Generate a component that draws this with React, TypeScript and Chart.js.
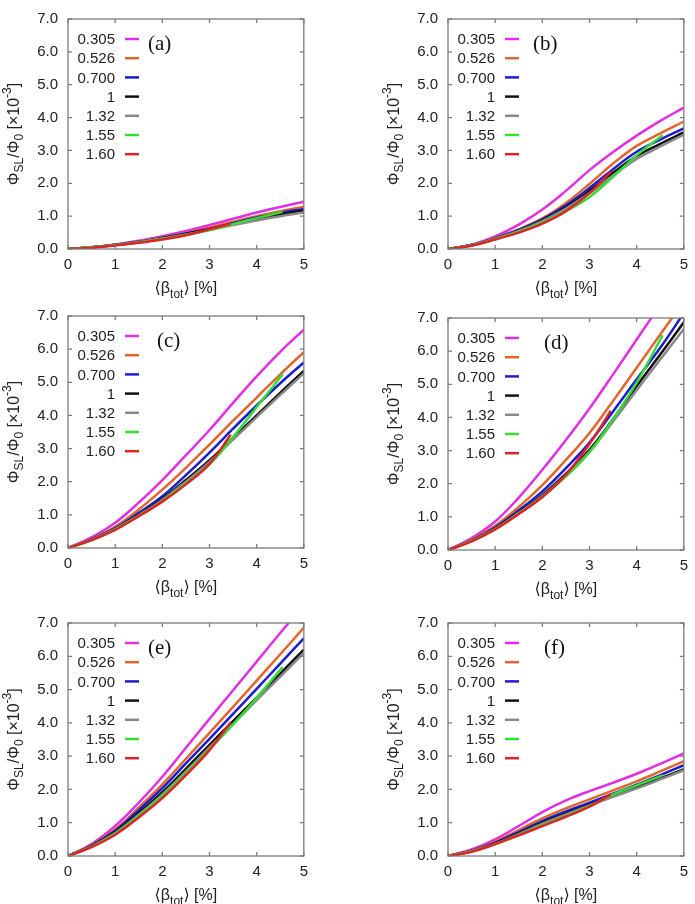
import { useEffect, useRef } from "react";
import { Chart, registerables } from "chart.js";

Chart.register(...registerables);

// Normalised total beta <beta_tot> [%] sample points
const BETA = [0, 0.5, 1, 1.5, 2, 2.5, 3, 3.5, 4, 4.5, 5];
const BETA_155 = [0, 0.5, 1, 1.5, 2, 2.5, 3, 3.5, 4, 4.55];
const BETA_160 = [0, 0.5, 1, 1.5, 2, 2.5, 3, 3.45];

const SERIES_LABELS = ["0.305", "0.526", "0.700", "1", "1.32", "1.55", "1.60"];
const SERIES_COLORS = ["#e42ee4", "#e4652c", "#1c1cd2", "#111111", "#888888", "#36dc36", "#e02424"];
const PANEL_TAGS = ["(a)", "(b)", "(c)", "(d)", "(e)", "(f)"];

const Y_TICK_LABELS = ["0.0", "1.0", "2.0", "3.0", "4.0", "5.0", "6.0", "7.0"];
const X_TICK_LABELS = ["0", "1", "2", "3", "4", "5"];

// Phi_SL / Phi_0 [x10^-3], one row per series (0.305 ... 1.60)
const PHI_A = [
  [0, 0.05, 0.14, 0.25, 0.39, 0.55, 0.73, 0.92, 1.11, 1.28, 1.44],
  [0, 0.05, 0.13, 0.23, 0.35, 0.49, 0.65, 0.83, 1.0, 1.15, 1.29],
  [0, 0.05, 0.13, 0.22, 0.34, 0.47, 0.62, 0.79, 0.96, 1.1, 1.22],
  [0, 0.05, 0.12, 0.21, 0.33, 0.46, 0.6, 0.76, 0.92, 1.05, 1.17],
  [0, 0.05, 0.12, 0.21, 0.32, 0.44, 0.58, 0.73, 0.87, 1.0, 1.11],
  [0, 0.05, 0.12, 0.2, 0.31, 0.43, 0.58, 0.76, 0.94, 1.13],
  [0, 0.04, 0.11, 0.19, 0.29, 0.42, 0.6, 0.77],
];
const PHI_B = [
  [0, 0.13, 0.38, 0.74, 1.2, 1.77, 2.4, 2.95, 3.45, 3.9, 4.3],
  [0, 0.12, 0.34, 0.6, 0.93, 1.4, 1.98, 2.6, 3.14, 3.52, 3.88],
  [0, 0.12, 0.33, 0.58, 0.9, 1.33, 1.86, 2.43, 2.96, 3.33, 3.67],
  [0, 0.12, 0.32, 0.56, 0.87, 1.27, 1.77, 2.32, 2.83, 3.2, 3.55],
  [0, 0.12, 0.32, 0.55, 0.85, 1.23, 1.7, 2.24, 2.74, 3.12, 3.48],
  [0, 0.11, 0.3, 0.52, 0.8, 1.15, 1.58, 2.2, 2.85, 3.46],
  [0, 0.1, 0.29, 0.5, 0.77, 1.15, 1.7, 2.35],
];
const PHI_C = [
  [0, 0.32, 0.76, 1.37, 2.05, 2.8, 3.56, 4.38, 5.18, 5.92, 6.59],
  [0, 0.27, 0.64, 1.16, 1.76, 2.42, 3.12, 3.84, 4.54, 5.24, 5.91],
  [0, 0.26, 0.6, 1.06, 1.56, 2.2, 2.88, 3.6, 4.3, 4.97, 5.6],
  [0, 0.25, 0.58, 1.01, 1.48, 2.05, 2.65, 3.32, 4.0, 4.68, 5.34],
  [0, 0.25, 0.57, 0.99, 1.45, 2.0, 2.6, 3.27, 3.95, 4.62, 5.27],
  [0, 0.24, 0.56, 0.97, 1.42, 1.95, 2.52, 3.35, 4.25, 5.24],
  [0, 0.24, 0.55, 0.96, 1.4, 1.92, 2.54, 3.42],
];
const PHI_D = [
  [0, 0.36, 0.86, 1.58, 2.42, 3.32, 4.27, 5.3, 6.35, 7.4, 8.45],
  [0, 0.31, 0.73, 1.3, 1.96, 2.72, 3.53, 4.5, 5.5, 6.5, 7.5],
  [0, 0.29, 0.68, 1.2, 1.77, 2.47, 3.24, 4.18, 5.15, 6.1, 7.15],
  [0, 0.28, 0.65, 1.14, 1.66, 2.3, 3.02, 3.95, 4.95, 5.9, 6.87],
  [0, 0.28, 0.64, 1.12, 1.63, 2.26, 2.97, 3.88, 4.82, 5.75, 6.67],
  [0, 0.27, 0.63, 1.1, 1.6, 2.22, 2.95, 3.95, 5.05, 6.48],
  [0, 0.26, 0.62, 1.09, 1.6, 2.27, 3.2, 4.2],
];
const PHI_E = [
  [0, 0.36, 0.9, 1.6, 2.38, 3.25, 4.12, 4.98, 5.84, 6.7, 7.55],
  [0, 0.33, 0.8, 1.45, 2.15, 2.92, 3.7, 4.48, 5.27, 6.06, 6.86],
  [0, 0.31, 0.76, 1.38, 2.04, 2.78, 3.52, 4.27, 5.02, 5.78, 6.54],
  [0, 0.3, 0.72, 1.29, 1.92, 2.62, 3.34, 4.05, 4.76, 5.48, 6.2],
  [0, 0.29, 0.69, 1.24, 1.85, 2.54, 3.26, 3.97, 4.68, 5.39, 6.1],
  [0, 0.28, 0.67, 1.21, 1.8, 2.49, 3.2, 3.95, 4.75, 5.68],
  [0, 0.27, 0.64, 1.16, 1.74, 2.43, 3.18, 4.02],
];
const PHI_F = [
  [0, 0.2, 0.5, 0.9, 1.32, 1.67, 1.95, 2.2, 2.47, 2.77, 3.08],
  [0, 0.17, 0.43, 0.78, 1.13, 1.43, 1.7, 1.97, 2.24, 2.54, 2.85],
  [0, 0.16, 0.4, 0.72, 1.05, 1.34, 1.6, 1.87, 2.14, 2.43, 2.73],
  [0, 0.15, 0.38, 0.68, 1.0, 1.28, 1.54, 1.8, 2.06, 2.33, 2.61],
  [0, 0.15, 0.37, 0.66, 0.97, 1.25, 1.52, 1.78, 2.03, 2.3, 2.58],
  [0, 0.14, 0.35, 0.63, 0.93, 1.2, 1.5, 1.85, 2.12, 2.42],
  [0, 0.13, 0.36, 0.62, 0.9, 1.18, 1.48, 1.85],
];
const PANEL_DATA = [PHI_A, PHI_B, PHI_C, PHI_D, PHI_E, PHI_F];

// Page placement of each panel's plot box
const PANEL_BOXES = [
  { left: 68, top: 13, bottom: 249, tagX: 80 },
  { left: 448, top: 13, bottom: 249, tagX: 85 },
  { left: 68, top: 310, bottom: 548, tagX: 89 },
  { left: 448, top: 312, bottom: 550, tagX: 96 },
  { left: 68, top: 617, bottom: 856, tagX: 80 },
  { left: 448, top: 617, bottom: 856, tagX: 96 },
];
const CANVAS_W = 315;
const CANVAS_H = 300;
const PAD_TOP = 13;
const Y_AXIS_W = 68;

const SANS = "'Liberation Sans', Arial, 'DejaVu Sans', sans-serif";
const SERIF = "'Liberation Serif', 'Times New Roman', 'DejaVu Serif', serif";
const INK = "#222222";
const FRAME = "#7c7c7c";

type Seg = { t: string; k?: "sub" | "sup" };

function drawRich(ctx: CanvasRenderingContext2D, segs: Seg[], cx: number, baseline: number, size: number) {
  const small = Math.round(size * 0.72);
  const font = (s: number) => `${s}px ${SANS}`;
  const widths = segs.map((s) => {
    ctx.font = font(s.k ? small : size);
    return ctx.measureText(s.t).width;
  });
  const total = widths.reduce((a, b) => a + b, 0);
  let x = cx - total / 2;
  ctx.textAlign = "left";
  ctx.textBaseline = "alphabetic";
  segs.forEach((s, i) => {
    ctx.font = font(s.k ? small : size);
    const dy = s.k === "sub" ? size * 0.3 : s.k === "sup" ? -size * 0.45 : 0;
    ctx.fillText(s.t, x, baseline + dy);
    x += widths[i];
  });
}

const Y_TITLE: Seg[] = [
  { t: "\u03A6" },
  { t: "SL", k: "sub" },
  { t: "/\u03A6" },
  { t: "0", k: "sub" },
  { t: " [\u00D710" },
  { t: "-3", k: "sup" },
  { t: "]" },
];
const X_TITLE: Seg[] = [{ t: "\u27E8\u03B2" }, { t: "tot", k: "sub" }, { t: "\u27E9 [%]" }];

function makeDecor(tag: string, tagX: number) {
  return {
    id: "panelDecor",
    afterDraw(chart: any) {
      const ctx: CanvasRenderingContext2D = chart.ctx;
      const { left, top, right, bottom } = chart.chartArea;
      const xs = chart.scales.x;
      const ys = chart.scales.y;
      ctx.save();

      // frame with inward tick marks on all four sides
      ctx.strokeStyle = FRAME;
      ctx.lineWidth = 1.3;
      ctx.strokeRect(left, top, right - left, bottom - top);
      const tl = 4;
      ctx.beginPath();
      xs.ticks.forEach((t: any) => {
        const px = xs.getPixelForValue(t.value);
        ctx.moveTo(px, bottom);
        ctx.lineTo(px, bottom - tl);
        ctx.moveTo(px, top);
        ctx.lineTo(px, top + tl);
      });
      ys.ticks.forEach((t: any) => {
        const py = ys.getPixelForValue(t.value);
        ctx.moveTo(left, py);
        ctx.lineTo(left + tl, py);
        ctx.moveTo(right, py);
        ctx.lineTo(right - tl, py);
      });
      ctx.stroke();

      // key
      ctx.font = `15px ${SANS}`;
      ctx.textAlign = "right";
      ctx.textBaseline = "middle";
      SERIES_LABELS.forEach((lab, i) => {
        const y = top + 20 + i * 19.2;
        ctx.fillStyle = INK;
        ctx.fillText(lab, left + 47, y + 1);
        ctx.strokeStyle = SERIES_COLORS[i];
        ctx.lineWidth = 2.5;
        ctx.beginPath();
        ctx.moveTo(left + 57, y);
        ctx.lineTo(left + 71, y);
        ctx.stroke();
      });

      // panel tag
      ctx.font = `21px ${SERIF}`;
      ctx.fillStyle = "#111111";
      ctx.textAlign = "left";
      ctx.textBaseline = "middle";
      ctx.fillText(tag, left + tagX, top + 25);

      // axis titles
      ctx.fillStyle = INK;
      drawRich(ctx, X_TITLE, (left + right) / 2, bottom + 44, 16);
      ctx.save();
      ctx.translate(left - 55, (top + bottom) / 2);
      ctx.rotate(-Math.PI / 2);
      drawRich(ctx, Y_TITLE, 0, 5.5, 16);
      ctx.restore();

      ctx.restore();
    },
  };
}

function Panel({ index }: { index: number }) {
  const ref = useRef<HTMLCanvasElement>(null);
  const box = PANEL_BOXES[index];
  const canvasLeft = box.left - Y_AXIS_W;
  const canvasTop = box.top - PAD_TOP;
  const plotH = box.bottom - box.top;

  useEffect(() => {
    if (!ref.current) return;
    const rows = PANEL_DATA[index];
    const datasets = rows.map((vals, i) => {
      const xs = i === 5 ? BETA_155 : i === 6 ? BETA_160 : BETA;
      return {
        label: SERIES_LABELS[i],
        data: vals.map((v, j) => ({ x: xs[j], y: v })),
        borderColor: SERIES_COLORS[i],
        borderWidth: 2.5,
        pointRadius: 0,
        fill: false,
        tension: 0.4,
        order: 6 - i,
      };
    });
    const chart = new Chart(ref.current, {
      type: "line",
      data: { datasets },
      options: {
        animation: false,
        responsive: false,
        devicePixelRatio: 1,
        events: [],
        layout: { padding: { top: PAD_TOP, right: 9, bottom: 0, left: 0 } },
        plugins: { legend: { display: false }, tooltip: { enabled: false } },
        scales: {
          x: {
            type: "linear",
            min: 0,
            max: 5,
            grid: { display: false, drawTicks: false },
            border: { display: false },
            ticks: {
              stepSize: 1,
              autoSkip: false,
              maxRotation: 0,
              padding: 7,
              color: INK,
              font: { family: SANS, size: 15 },
              callback: (v: any) => X_TICK_LABELS[Math.round(Number(v))] ?? "",
            },
            afterFit: (scale: any) => {
              scale.height = CANVAS_H - PAD_TOP - plotH;
            },
          },
          y: {
            type: "linear",
            min: 0,
            max: 7,
            grid: { display: false, drawTicks: false },
            border: { display: false },
            ticks: {
              stepSize: 1,
              autoSkip: false,
              padding: 10,
              color: INK,
              font: { family: SANS, size: 15 },
              callback: (v: any) => Y_TICK_LABELS[Math.round(Number(v))] ?? "",
            },
            afterFit: (scale: any) => {
              scale.width = Y_AXIS_W;
            },
          },
        },
      },
      plugins: [makeDecor(PANEL_TAGS[index], box.tagX)],
    });
    return () => chart.destroy();
  }, [index, plotH]);

  return (
    <canvas
      ref={ref}
      width={CANVAS_W}
      height={CANVAS_H}
      style={{
        position: "absolute",
        left: canvasLeft,
        top: canvasTop,
        width: CANVAS_W,
        height: CANVAS_H,
      }}
    />
  );
}

export default function App() {
  return (
    <div
      style={{
        position: "absolute",
        left: 0,
        top: 0,
        width: 695,
        height: 904,
        background: "#ffffff",
        overflow: "hidden",
      }}
    >
      {PANEL_BOXES.map((_, i) => (
        <Panel key={i} index={i} />
      ))}
    </div>
  );
}
